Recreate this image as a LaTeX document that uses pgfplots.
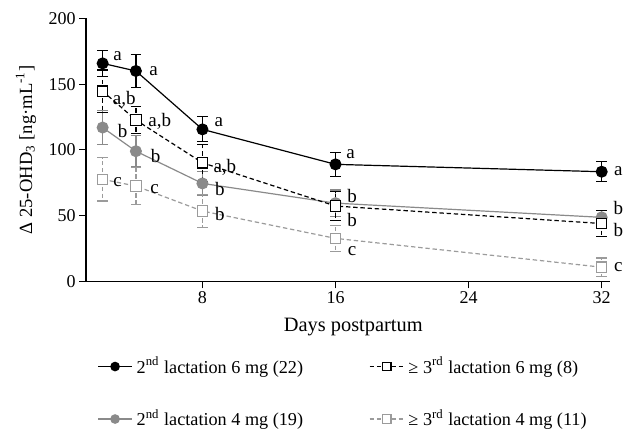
\documentclass[border=0pt]{standalone}
\usepackage{pgfplots}
\pgfplotsset{compat=1.18}
\usepackage{fontspec}
\setmainfont{Liberation Serif}
\definecolor{dgray}{RGB}{138,138,138}
\definecolor{lgray}{RGB}{155,155,155}

\begin{document}
\begin{tikzpicture}
  \begin{axis}[
      name=main,
      scale only axis,
      width=262pt, height=131.5pt,
      xmin=1, xmax=32.5,
      ymin=0, ymax=200,
      axis x line*=bottom,
      axis y line*=left,
      xtick={8,16,24,32},
      ytick={0,50,100,150,200},
      tick align=outside,
      major tick length=3.5pt,
      tick style={black, line width=0.6pt},
      axis line style={line width=0.6pt},
      /pgf/number format/assume math mode=true,
      ticklabel style={font=\fontsize{9}{11}\selectfont, inner sep=1.5pt},
      xlabel={Days postpartum},
      ylabel={Δ 25-OHD\textsubscript{3} [ng·mL\textsuperscript{-1}]},
      every axis x label/.style={at={(axis description cs:0.51,-0.175)}, anchor=center,
        font=\fontsize{10.2}{12}\selectfont},
      every axis y label/.style={at={(axis description cs:-0.1145,0.5)}, anchor=center,
        rotate=90, font=\fontsize{9.3}{11}\selectfont},
      clip=false,
      legend columns=2,
      transpose legend,
      legend cell align=left,
      legend image post style={mark size=2.1pt},
      legend style={
        at={(0.021,-0.27)}, anchor=north west, draw=none, inner sep=0pt,
        font=\fontsize{9.1}{11}\selectfont,
        /tikz/every even column/.append style={column sep=31pt},
        row sep=12.5pt,
      },
      error bars/error bar style={line width=0.6pt},
      error bars/error mark options={rotate=90, mark size=2.6pt, line width=0.6pt},
    ]
    % 2nd lactation 6 mg
    \addplot[black, line width=0.6pt, mark=*, mark size=2.7pt,
      error bars/.cd, y dir=both, y explicit]
      coordinates {
        (2,165.8) +- (0,10)
        (4,160) +- (0,12.6)
        (8,115.6) +- (0,9.5)
        (16,89) +- (0,9)
        (32,83.4) +- (0,7.5)
      };
    \addlegendentry{2\textsuperscript{nd} lactation 6 mg (22)}
    % 2nd lactation 4 mg
    \addplot[dgray, line width=0.6pt, mark=*, mark size=2.7pt,
      error bars/.cd, y dir=both, y explicit]
      coordinates {
        (2,117) +- (0,13)
        (4,99) +- (0,12)
        (8,74.5) +- (0,9)
        (16,59.5) +- (0,10)
        (32,48.7) +- (0,5)
      };
    \addlegendentry{2\textsuperscript{nd} lactation 4 mg (19)}
    % >= 3rd lactation 6 mg
    \addplot[black, line width=0.6pt, dash pattern=on 2.2pt off 1.4pt,
      mark=square*, mark size=2.6pt, mark options={solid, fill=white},
      error bars/.cd, y dir=both, y explicit]
      coordinates {
        (2,144.7) +- (0,16)
        (4,122.7) +- (0,10)
        (8,90.2) +- (0,14)
        (16,57.3) +- (0,11)
        (32,44) +- (0,10)
      };
    \addlegendentry{≥ 3\textsuperscript{rd} lactation 6 mg (8)}
    % >= 3rd lactation 4 mg
    \addplot[lgray, line width=0.6pt, dash pattern=on 2.2pt off 1.4pt,
      mark=square*, mark size=2.6pt, mark options={solid, fill=white},
      error bars/.cd, y dir=both, y explicit]
      coordinates {
        (2,77.6) +- (0,16.5)
        (4,72.5) +- (0,14)
        (8,53.5) +- (0,12.4)
        (16,32.7) +- (0,10)
        (32,10.8) +- (0,7)
      };
    \addlegendentry{≥ 3\textsuperscript{rd} lactation 4 mg (11)}

    % significance letters
    \begin{scope}[font=\fontsize{9.5}{11}\selectfont]
      \node at (axis cs:2.9,171) {a};
      \node at (axis cs:3.3,138.5) {a,b};
      \node at (axis cs:3.2,114) {b};
      \node at (axis cs:2.9,75.5) {c};
      \node at (axis cs:5.07,160) {a};
      \node at (axis cs:5.43,122) {a,b};
      \node at (axis cs:5.19,95) {b};
      \node at (axis cs:5.13,70) {c};
      \node at (axis cs:8.99,121) {a};
      \node at (axis cs:9.35,87) {a,b};
      \node at (axis cs:9.05,70.5) {b};
      \node at (axis cs:9.05,51) {b};
      \node at (axis cs:16.9,96.6) {a};
      \node at (axis cs:17.0,64.6) {b};
      \node at (axis cs:17.0,47) {b};
      \node at (axis cs:17.0,23) {c};
      \node at (axis cs:33.0,83.5) {a};
      \node at (axis cs:33.0,56) {b};
      \node at (axis cs:33.0,39) {b};
      \node at (axis cs:33.0,10.6) {c};
    \end{scope}
  \end{axis}
  \pgfresetboundingbox
  \path[use as bounding box] ([shift={(-43pt,-76.7pt)}]main.south west)
    rectangle ([shift={(9.5pt,9.2pt)}]main.north east);
\end{tikzpicture}
\end{document}
